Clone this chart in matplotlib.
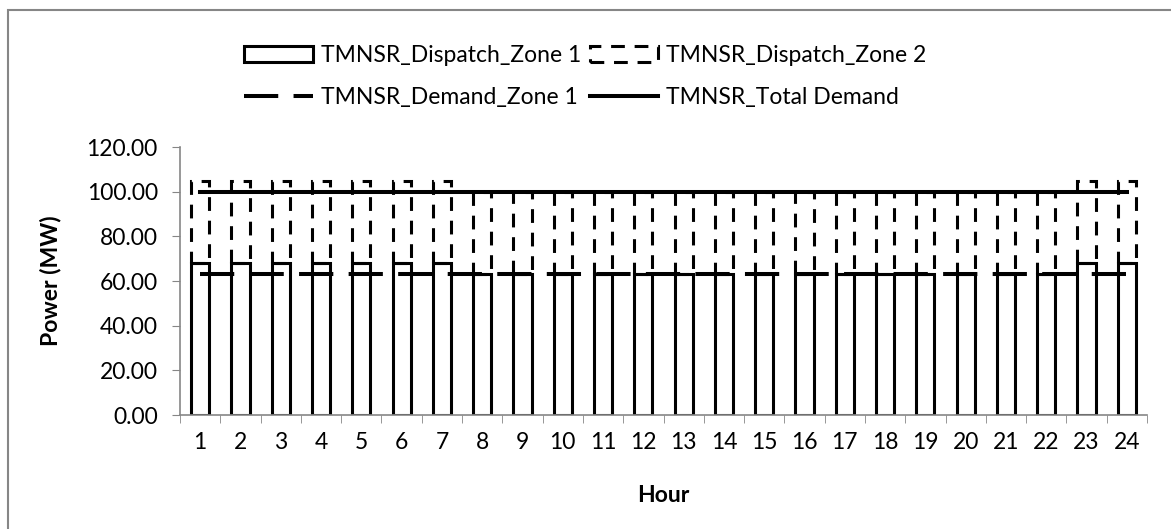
import numpy as np
import matplotlib.pyplot as plt
from matplotlib.patches import Rectangle

plt.rcParams['font.family'] = ['Lato', 'DejaVu Sans']

hours = [str(h) for h in range(1, 25)]
dispatch_zone1 = [68, 68, 68, 68, 68, 68, 68, 63, 63, 63, 63, 63,
                  63, 63, 63, 63, 63, 63, 63, 63, 63, 63, 68, 68]
dispatch_zone2 = [37, 37, 37, 37, 37, 37, 37, 37, 37, 37, 37, 37,
                  37, 37, 37, 37, 37, 37, 37, 37, 37, 37, 37, 37]
demand_zone1 = [63] * 24
total_demand = [100] * 24

W, H = 1171, 529
fig = plt.figure(figsize=(W / 100, H / 100), dpi=100)
ax = fig.add_axes([180 / W, 1 - 415 / H, (1147 - 180) / W, (415 - 147) / H])

x = np.arange(len(hours))
bw = 0.45
b1 = ax.bar(x, dispatch_zone1, bw, facecolor='white', edgecolor='black', linewidth=2.2,
            label='TMNSR_Dispatch_Zone 1', zorder=2)
b2 = ax.bar(x, dispatch_zone2, bw, bottom=dispatch_zone1, facecolor='none', edgecolor='black',
            linewidth=2.2, linestyle=(0, (4.5, 3.2)), label='TMNSR_Dispatch_Zone 2', zorder=2)
l1, = ax.plot(x, demand_zone1, color='black', linewidth=2.9, linestyle=(0, (8.5, 3.8)),
              label='TMNSR_Demand_Zone 1', zorder=3)
l2, = ax.plot(x, total_demand, color='black', linewidth=2.9, label='TMNSR_Total Demand', zorder=3)

fs = 16.5
ax.set_xlim(-0.5, len(hours) - 0.5)
ax.set_ylim(0, 120)
ax.set_yticks(np.arange(0, 121, 20))
ax.set_yticklabels(['%.2f' % v for v in np.arange(0, 121, 20)], fontsize=fs)
ax.set_xticks(x)
ax.set_xticklabels(hours, fontsize=fs)
ax.set_xticks(np.arange(-0.5, len(hours), 1), minor=True)
ax.tick_params(axis='x', which='major', length=0, pad=12)
ax.tick_params(axis='x', which='minor', length=6, color='#868686', direction='out')
ax.tick_params(axis='y', length=6, color='#868686', pad=10)
for s in ['top', 'right']:
    ax.spines[s].set_visible(False)
for s in ['left', 'bottom']:
    ax.spines[s].set_color('#868686')
    ax.spines[s].set_linewidth(1.2)

ax.set_ylabel('Power (MW)', fontsize=fs, fontweight='bold', labelpad=18)
ax.set_xlabel('Hour', fontsize=fs, fontweight='bold', labelpad=23)

# ncol fills column-wise, so order handles to read row by row
fig.legend(handles=[b1, l1, b2, l2], loc='upper center', bbox_to_anchor=(0.5, 1 - 24 / H),
           ncol=2, frameon=False, fontsize=fs, handlelength=3.0, handletextpad=0.35,
           columnspacing=0.35, labelspacing=0.95)

fig.patches.append(Rectangle((8 / W, -0.1), 1.2, 1 - 10 / H + 0.1, transform=fig.transFigure,
                             fill=False, edgecolor='#868686', linewidth=1.5))

fig.savefig('out.png', dpi=100)
